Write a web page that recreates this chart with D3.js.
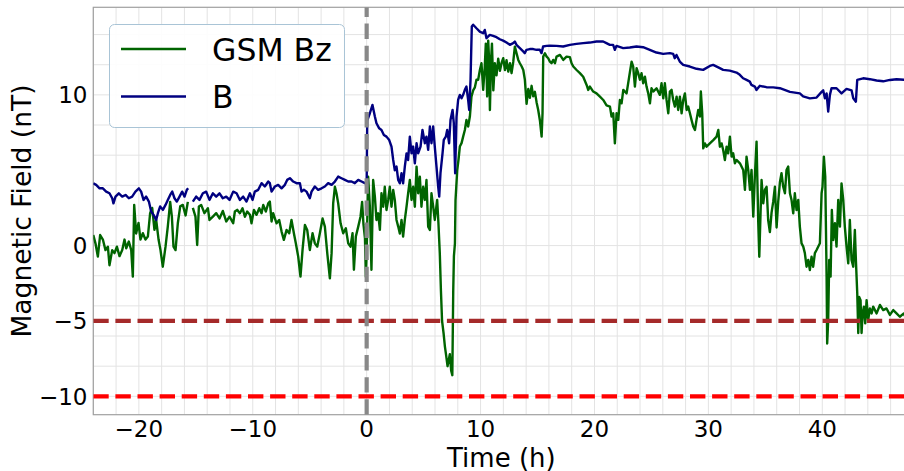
<!DOCTYPE html>
<html>
<head>
<meta charset="utf-8">
<script src="https://cdn.jsdelivr.net/npm/d3@7"></script>
<style>
  html, body { margin: 0; padding: 0; background: #ffffff; }
  svg { display: block; }
  text { font-family: "DejaVu Sans", sans-serif; fill: #000; }
</style>
</head>
<body>
<svg id="chart" width="904" height="471"></svg>
<script>
// ---------------- data ----------------
const seriesNames = ["GSM Bz", "B"];

const bzTime = [
-24.0,-23.81,-23.6,-23.4,-23.16,-22.93,-22.72,-22.58,-22.34,-22.14,-21.93,-21.7,-21.46,-21.26,-21.11,-20.88,-20.67,-20.53,-20.41,-20.24,
-20.03,-19.86,-19.65,-19.42,-19.21,-19.01,-18.83,-18.63,-18.48,-18.27,-18.1,-17.9,-17.66,-17.46,-17.25,-17.1,-16.96,-16.78,-16.58,-16.37,
-16.14,-15.9,-15.7,-15.5,-15.26,-15.03,-14.88,-14.73,-14.53,-14.24,-13.94,-13.8,-13.5,-13.21,-12.92,-12.63,-12.33,-12.04,-11.72,-11.57,
-11.37,-11.13,-10.9,-10.69,-10.49,-10.25,-10.11,-9.9,-9.67,-9.43,-9.23,-9.08,-8.85,-8.64,-8.5,-8.35,-8.21,-7.91,-7.68,-7.47,
-7.27,-7.03,-6.8,-6.6,-6.39,-6.22,-6.01,-5.81,-5.63,-5.42,-5.22,-4.99,-4.75,-4.55,-4.34,-4.11,-3.87,-3.67,-3.46,-3.23,
-3.08,-2.94,-2.79,-2.65,-2.5,-2.29,-2.06,-1.83,-1.62,-1.42,-1.24,-1.12,-0.95,-0.74,-0.54,-0.4,-0.28,-0.15,-0.07,0.0,
0.13,0.28,0.42,0.57,0.72,0.86,1.01,1.16,1.3,1.45,1.59,1.74,1.89,2.03,2.18,2.33,2.47,2.62,2.77,2.91,
3.06,3.2,3.35,3.5,3.64,3.79,3.94,4.08,4.23,4.38,4.52,4.67,4.81,4.96,5.11,5.25,5.4,5.55,5.69,5.84,
5.98,6.19,6.3,6.42,6.52,6.62,6.75,6.87,6.98,7.1,7.2,7.3,7.42,7.52,7.6,7.66,7.75,7.8,7.95,8.06,
8.18,8.33,8.47,8.62,8.76,8.91,9.06,9.2,9.35,9.5,9.64,9.79,9.94,10.08,10.23,10.37,10.46,10.58,10.67,10.75,
10.82,10.92,11.0,11.12,11.25,11.4,11.55,11.7,11.84,11.99,12.14,12.28,12.43,12.58,12.72,12.87,13.01,13.16,13.31,13.45,
13.6,13.75,13.89,14.04,14.19,14.33,14.48,14.62,14.77,14.92,15.06,15.21,15.36,15.44,15.5,15.65,15.8,15.94,16.09,16.23,
16.38,16.53,16.67,16.97,17.26,17.55,17.84,17.99,18.14,18.43,18.72,19.01,19.31,19.45,19.6,19.89,20.18,20.48,20.77,21.06,
21.36,21.5,21.65,21.79,21.94,22.09,22.23,22.38,22.53,22.82,23.11,23.26,23.4,23.55,23.7,23.84,23.99,24.13,24.28,24.43,
24.57,24.72,24.87,25.01,25.16,25.45,25.74,25.89,26.04,26.18,26.33,26.48,26.62,26.77,26.91,27.06,27.21,27.35,27.5,27.65,
27.79,27.94,28.09,28.23,28.38,28.52,28.67,28.82,28.96,29.11,29.26,29.34,29.46,29.55,29.7,29.84,30.13,30.43,30.72,30.87,
31.01,31.16,31.3,31.45,31.6,31.74,31.89,32.04,32.18,32.33,32.47,32.77,33.06,33.21,33.35,33.5,33.65,33.79,33.94,34.08,
34.23,34.38,34.47,34.58,34.67,34.82,34.96,35.11,35.25,35.4,35.55,35.69,35.84,35.99,36.13,36.28,36.42,36.57,36.72,36.86,
37.01,37.16,37.3,37.45,37.59,37.74,37.89,38.03,38.18,38.33,38.47,38.62,38.77,38.91,39.06,39.2,39.35,39.5,39.79,39.94,
40.02,40.14,40.26,40.38,40.43,40.52,40.61,40.73,40.84,40.96,41.11,41.25,41.4,41.55,41.69,41.84,41.98,42.13,42.28,42.42,
42.57,42.72,42.86,42.95,43.07,43.16,43.24,43.36,43.45,43.54,43.65,43.77,43.89,44.03,44.18,44.33,44.47,44.77,45.06,45.35,
45.64,45.94,46.23,46.52,46.81,47.16,47.4,47.7
];
const bzValues = [
0.7,0.15,-0.73,0.7,0.4,-0.3,-0.07,-1.3,-0.3,-0.5,-0.07,-0.7,-0.3,0.4,-0.18,0.27,-0.3,-2.06,2.7,0.8,
1.5,0.4,0.82,0.4,0.6,2.15,2.5,1.04,1.7,0.4,-0.3,-1.4,-0.07,1.26,2.9,1.9,-0.07,-0.3,1.48,2.6,
2.7,2.0,2.9,null,2.5,1.92,0.04,2.6,2.7,2.15,2.48,1.7,1.92,2.15,1.8,2.3,1.6,1.92,1.48,2.26,
2.37,2.15,2.48,1.92,2.26,2.04,1.48,2.37,2.04,2.48,2.15,2.7,2.26,2.8,2.92,1.6,2.15,1.48,1.7,0.93,
0.38,1.04,0.82,1.7,0.82,0.15,-0.73,-2.06,-0.29,1.37,1.04,-0.29,0.82,0.15,-0.07,0.82,1.8,1.26,-0.5,-2.17,
-0.5,2.8,3.9,3.47,2.8,1.48,0.82,1.15,0.15,-0.07,0.82,-1.6,0.6,1.26,1.92,2.9,1.4,0.5,-2.06,-0.5,
4.57,2.58,-1.6,4.35,3.25,1.7,2.14,1.04,3.47,2.58,3.9,2.36,3.03,3.9,2.58,3.69,3.03,1.7,1.26,0.8,
1.7,0.6,1.7,2.58,3.47,4.35,3.03,3.9,2.58,5.24,3.47,4.57,2.58,3.9,3.03,4.35,1.26,1.04,3.47,2.58,
1.7,3.03,1.5,-0.5,-3.0,-5.0,-5.8,-6.7,-7.3,-8.0,-7.6,-7.2,-8.3,-8.6,-3.0,-0.7,0.15,3.0,5.0,5.68,
6.57,6.8,7.23,7.67,8.33,7.9,8.56,9.88,10.3,10.5,11.0,11.0,11.65,12.1,10.33,11.9,13.4,9.9,13.6,12.3,
9.0,12.3,13.4,10.3,12.1,11.3,12.4,11.6,12.1,12.43,11.65,12.3,11.54,12.1,11.44,12.2,13.2,12.76,12.32,12.1,
11.9,11.65,11.0,9.4,10.4,9.8,10.6,9.9,10.2,9.5,9.0,8.3,7.23,8.78,12.54,12.76,12.54,12.43,12.2,12.1,
12.32,12.1,12.54,12.65,12.32,12.54,12.5,12.1,11.88,11.65,11.44,11.2,10.66,10.33,10.55,10.22,10.1,9.88,9.66,9.3,
9.22,8.56,8.78,6.78,8.78,8.34,9.66,9.44,10.33,10.1,11.5,12.2,11.88,10.55,11.77,11.44,11.0,11.44,10.77,11.21,
10.55,10.1,9.44,10.44,10.22,10.44,10.0,10.77,9.77,10.77,9.66,8.78,10.22,10.33,9.66,9.22,9.88,9.0,9.88,8.78,
9.66,10.1,9.0,9.22,8.78,8.34,7.9,7.67,8.34,9.0,8.56,10.22,8.78,6.45,6.78,6.56,6.78,7.0,7.23,7.67,
6.56,6.78,6.34,5.68,6.56,6.12,7.23,5.9,6.12,5.46,5.68,5.46,5.02,3.7,5.9,5.02,3.7,5.02,1.92,4.58,
6.9,1.5,-0.74,2.14,4.35,2.8,3.7,3.9,1.7,0.9,2.2,2.9,3.9,1.2,2.9,4.2,4.8,3.9,3.47,5.02,
5.24,3.47,3.03,2.14,3.47,2.36,3.03,1.26,0.15,-0.07,-0.5,-1.4,-0.95,-1.62,-0.73,-1.4,-0.5,-0.29,0.15,3.47,
3.9,5.9,4.58,-2.06,-6.5,-4.94,-0.95,-2.06,2.36,0.37,1.48,-0.07,3.03,1.26,4.13,3.03,1.26,-0.07,-1.18,1.7,
-0.95,-1.4,1.03,-0.95,-3.16,-5.8,-3.4,-3.62,-5.8,-4.5,-4.05,-5.16,-3.62,-4.94,-4.17,-4.5,-4.05,-4.5,-3.94,-4.28,
-4.17,-4.6,-4.28,-4.5,-4.72,-4.5,-4.9,-4.7
];

const bTime = [
-24.0,-23.75,-23.45,-23.16,-22.87,-22.58,-22.34,-22.23,-22.05,-21.76,-21.46,-21.17,-20.88,-20.59,-20.3,-20.0,-19.8,-19.59,-19.36,-19.12,
-18.92,-18.71,-18.48,-18.33,-18.13,-17.89,-17.66,-17.46,-17.25,-17.07,-16.87,-16.67,-16.43,-16.2,-15.99,-15.79,-15.67,-15.5,-15.26,-14.97,
-14.68,-14.38,-14.09,-13.8,-13.5,-13.21,-12.92,-12.63,-12.33,-12.04,-11.72,-11.42,-11.13,-10.84,-10.55,-10.25,-10.02,-9.82,-9.52,-9.23,
-8.94,-8.64,-8.5,-8.35,-8.06,-7.77,-7.47,-7.18,-6.98,-6.74,-6.45,-6.16,-5.86,-5.72,-5.51,-5.28,-4.99,-4.84,-4.55,-4.26,
-3.96,-3.67,-3.38,-3.08,-2.79,-2.5,-2.21,-1.91,-1.62,-1.33,-1.04,-0.74,-0.45,-0.16,0.0,0.05,0.28,0.51,0.72,0.86,
1.1,1.3,1.51,1.74,1.98,2.18,2.33,2.47,2.62,2.77,2.91,3.06,3.2,3.35,3.5,3.64,3.79,3.94,4.08,4.23,
4.38,4.52,4.73,4.9,5.11,5.25,5.4,5.55,5.69,5.84,5.98,6.13,6.28,6.37,6.48,6.66,6.77,6.95,7.07,7.24,
7.36,7.54,7.65,7.77,7.89,8.03,8.18,8.33,8.47,8.62,8.76,8.91,9.0,9.12,9.23,9.35,9.64,9.93,10.23,10.37,
10.52,10.81,11.1,11.4,11.69,11.98,12.28,12.57,12.86,13.01,13.15,13.45,13.74,13.88,14.03,14.32,14.62,14.91,15.2,15.35,
15.49,15.79,16.08,16.66,17.25,17.84,18.42,19.01,19.59,20.18,20.76,21.05,21.35,21.64,21.79,21.93,22.52,23.1,23.69,24.27,
24.86,25.44,26.03,26.62,26.91,27.05,27.2,27.49,27.79,28.37,28.96,29.54,30.13,30.42,31.0,31.3,31.88,32.47,32.76,33.05,
33.35,33.64,33.78,34.08,34.22,34.52,35.1,35.69,36.28,37.16,38.03,38.32,38.91,39.5,39.94,40.08,40.23,40.38,40.52,40.67,
40.81,41.25,41.69,42.13,42.57,42.72,42.95,43.07,43.59,44.18,44.77,45.35,45.94,46.52,47.16,47.7
];
const bValues = [
4.14,4.03,3.8,3.8,3.58,3.47,3.14,2.8,3.25,3.47,3.25,3.36,3.14,3.25,3.58,3.8,3.58,3.03,3.25,2.92,
2.26,2.04,1.7,2.15,2.6,2.37,2.7,3.03,3.36,3.58,3.14,2.92,3.25,3.58,3.25,3.7,3.8,null,2.92,3.25,
3.03,3.47,3.58,3.03,3.47,3.25,3.47,3.14,3.25,3.03,3.58,3.47,3.03,3.25,2.92,3.47,3.03,3.58,3.7,4.14,
3.92,4.25,4.14,3.58,3.92,4.03,3.8,4.03,4.36,4.47,4.25,4.14,4.14,3.58,3.7,3.58,3.14,3.58,3.92,3.7,
3.8,3.92,4.14,4.03,4.25,4.58,4.47,4.36,4.25,4.25,4.14,4.36,4.25,4.14,4.1,8.3,8.78,9.33,8.56,8.12,
7.78,7.67,7.34,7.23,7.0,6.57,5.68,5.0,5.24,4.35,4.13,4.8,4.13,5.24,6.12,5.68,7.23,6.12,6.57,5.46,
6.79,6.12,6.57,7.67,6.79,7.23,6.35,7.9,6.79,7.9,6.57,5.24,3.9,3.25,4.8,6.12,7.01,7.23,7.67,6.79,
8.33,9.0,8.12,4.8,8.56,9.66,10.0,9.77,10.0,10.33,10.55,9.66,9.0,11.0,14.53,14.65,14.42,14.2,14.09,14.31,
13.76,13.98,13.92,13.83,13.69,13.6,13.47,13.32,13.43,13.54,13.32,13.1,12.88,12.77,12.99,13.04,13.04,12.99,12.99,12.77,
13.21,13.25,13.27,13.25,13.21,13.32,13.38,13.43,13.47,13.54,13.54,13.43,13.32,13.32,12.99,13.25,13.1,13.14,13.21,13.16,
12.99,12.81,12.72,12.77,12.72,12.43,12.65,12.21,11.99,11.88,11.73,11.66,11.92,11.99,11.77,11.66,11.61,11.48,11.33,11.1,
10.99,10.88,10.66,10.55,10.33,10.6,10.51,10.5,10.44,10.2,10.1,9.9,9.77,9.82,10.2,10.3,9.77,10.1,8.89,10.0,
10.44,10.44,10.1,10.4,10.3,9.77,9.55,11.0,11.1,11.04,10.95,10.9,10.99,11.04,11.0,11.0
];

const xTickValues = [-20, -10, 0, 10, 20, 30, 40];
const yTickValues = [-10, -5, 0, 10];
const thresholdValues = [-5, -10];
const eventTime = [0];

// ---------------- layout ----------------
const plot = { left: 93.3, right: 913.4, top: 7.3, bottom: 414.7 };
const colors = { bz: "#006400", b: "#000080", th: ["#a52a2a", "#ff0000"], ev: "#888888" };

const x = d3.scaleLinear().domain([-24, 48]).range([plot.left, plot.right]);
const y = d3.scaleLinear().domain([-11.22, 15.81]).range([plot.bottom, plot.top]);

const svg = d3.select("#chart");

svg.append("defs").append("clipPath").attr("id", "clip")
  .append("rect")
  .attr("x", plot.left).attr("y", plot.top)
  .attr("width", plot.right - plot.left).attr("height", plot.bottom - plot.top);

// grid (every 2 units in both directions)
const gridX = d3.range(-24, 48.001, 2);
const gridY = d3.range(-10, 15.001, 2);
const grid = svg.append("g").attr("class", "grid");
grid.selectAll("line.gx").data(gridX).join("line")
  .attr("x1", d => x(d)).attr("x2", d => x(d))
  .attr("y1", plot.top).attr("y2", plot.bottom)
  .attr("stroke", "#e3e3e3").attr("stroke-width", 1);
grid.selectAll("line.gy").data(gridY).join("line")
  .attr("x1", plot.left).attr("x2", plot.right)
  .attr("y1", d => y(d)).attr("y2", d => y(d))
  .attr("stroke", "#e3e3e3").attr("stroke-width", 1);

// spines
svg.append("rect")
  .attr("x", plot.left).attr("y", plot.top)
  .attr("width", plot.right - plot.left).attr("height", plot.bottom - plot.top)
  .attr("fill", "none").attr("stroke", "#a0a0a0").attr("stroke-width", 1.2);

// series
const bzData = bzTime.map((t, i) => ({ t, v: bzValues[i] }));
const bData = bTime.map((t, i) => ({ t, v: bValues[i] }));
const line = d3.line().defined(d => d.v !== null).x(d => x(d.t)).y(d => y(d.v));

const g = svg.append("g").attr("clip-path", "url(#clip)");
g.append("path").datum(bzData).attr("d", line)
  .attr("fill", "none").attr("stroke", colors.bz).attr("stroke-width", 2.4)
  .attr("stroke-linejoin", "round");
g.append("path").datum(bData).attr("d", line)
  .attr("fill", "none").attr("stroke", colors.b).attr("stroke-width", 2.4)
  .attr("stroke-linejoin", "round");

// threshold lines
g.selectAll("line.th").data(thresholdValues).join("line")
  .attr("x1", plot.left).attr("x2", plot.right)
  .attr("y1", d => y(d)).attr("y2", d => y(d))
  .attr("stroke", (d, i) => colors.th[i]).attr("stroke-width", 4.2)
  .attr("stroke-dasharray", "15.4,6.7");
// event line
g.selectAll("line.ev").data(eventTime).join("line")
  .attr("x1", d => x(d)).attr("x2", d => x(d))
  .attr("y1", plot.bottom).attr("y2", plot.top)
  .attr("stroke", colors.ev).attr("stroke-width", 4.2)
  .attr("stroke-dasharray", "15.4,6.7");

// axes tick labels
const fmt = d => (d < 0 ? "\u2212" + Math.abs(d) : String(d));
svg.append("g").selectAll("text").data(xTickValues).join("text")
  .attr("x", d => x(d)).attr("y", 436.5)
  .attr("text-anchor", "middle").attr("font-size", 23)
  .text(fmt);
svg.append("g").selectAll("text").data(yTickValues).join("text")
  .attr("x", 87.5).attr("y", d => y(d) + 8.3)
  .attr("text-anchor", "end").attr("font-size", 23)
  .text(fmt);

// axis titles
svg.append("text")
  .attr("x", (plot.left + plot.right) / 2 - 2).attr("y", 466.5)
  .attr("text-anchor", "middle").attr("font-size", 26)
  .text("Time (h)");
svg.append("text")
  .attr("transform", `translate(31, ${(plot.top + plot.bottom) / 2}) rotate(-90)`)
  .attr("text-anchor", "middle").attr("font-size", 26.5)
  .text("Magnetic Field (nT)");

// legend
const lg = svg.append("g");
lg.append("rect")
  .attr("x", 109.5).attr("y", 24.5).attr("width", 235).attr("height", 103).attr("rx", 5)
  .attr("fill", "#ffffff").attr("fill-opacity", 0.9)
  .attr("stroke", "#a9c4d6").attr("stroke-width", 1);
const legendColors = [colors.bz, colors.b];
const legendY = [49, 96.5];
seriesNames.forEach((name, i) => {
  lg.append("line")
    .attr("x1", 121).attr("x2", 186).attr("y1", legendY[i]).attr("y2", legendY[i])
    .attr("stroke", legendColors[i]).attr("stroke-width", 2.4);
  lg.append("text")
    .attr("x", 212).attr("y", legendY[i] + 11.5)
    .attr("font-size", 31.5)
    .text(name);
});
</script>
</body>
</html>
